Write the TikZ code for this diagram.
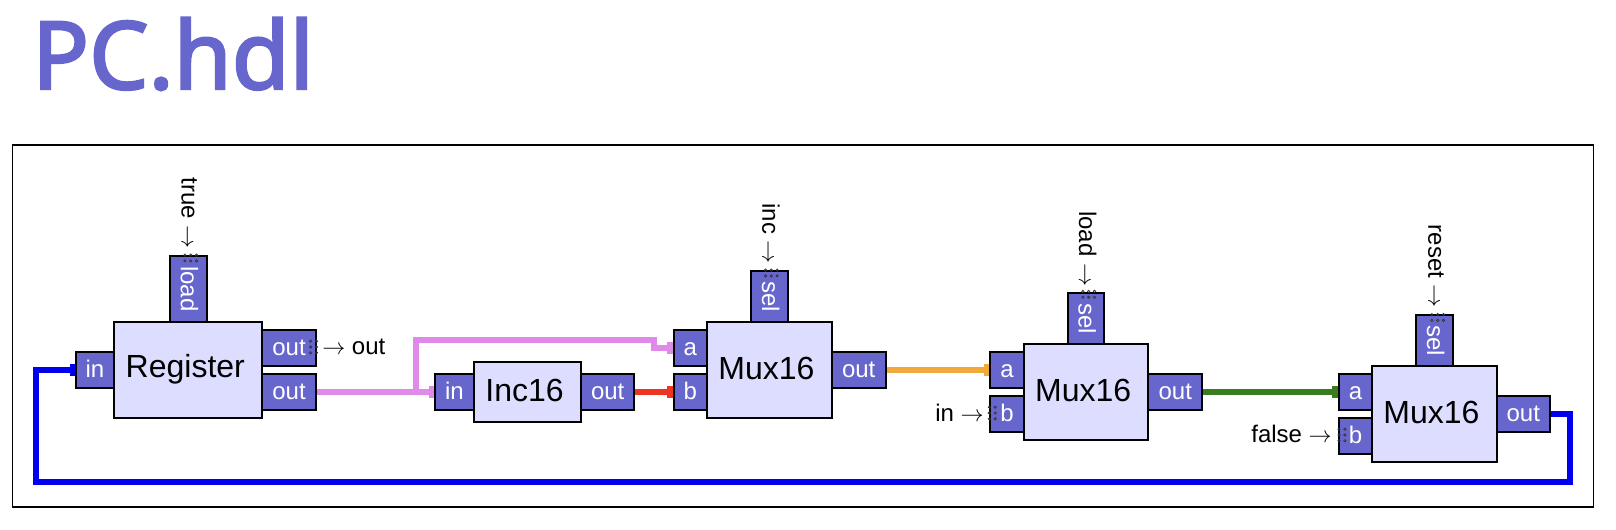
\documentclass[tikz,border=0pt]{standalone}
\usepackage{fontspec}
\setmainfont{Liberation Sans}
\newfontfamily\titlefont{Noto Sans}[FakeBold=2.6]
\usetikzlibrary{arrows.meta}
\definecolor{chipblue}{HTML}{6666CC}
\definecolor{chiplight}{HTML}{DDDDFF}
\definecolor{wirepink}{HTML}{DF8AE8}
\definecolor{wirered}{HTML}{EE3524}
\definecolor{wireorange}{HTML}{F2A93B}
\definecolor{wiregreen}{HTML}{3A7D1E}
\definecolor{wireblue}{HTML}{0000EE}
\tikzset{
	boxsize/.style 2 args={minimum width=#1*0.75pt, minimum height=#2*0.75pt},
	chipbox/.style={draw=black, line width=1.5pt, fill=chiplight, inner sep=0pt, text height=17.25pt, text depth=2.25pt, font=\fontsize{24pt}{24pt}\selectfont, execute at end node={\kern4.5pt}},
	portbox/.style={draw=black, line width=1.5pt, fill=chipblue, text=white, inner sep=0pt, text height=12.75pt, text depth=1.5pt, font=\fontsize{18pt}{18pt}\selectfont},
	wirelabel/.style={black, inner sep=0pt, font=\fontsize{18pt}{18pt}\selectfont},
	wire/.style={line width=4.5pt, -{Rectangle[length=4pt, width=9.5pt]}},
	pinmark/.style={draw=black!80, line width=0.5pt},
}
\begin{document}
\begin{tikzpicture}[x=0.75pt, y=-0.75pt]
	\useasboundingbox (0,0) rectangle (1616,530);
	\node[chipblue, inner sep=0pt, anchor=base west, font=\titlefont\fontsize{70.5pt}{70.5pt}\selectfont] (title) at (32,89) {PC.hdl};
	\node[draw=black, line width=0.8pt, boxsize={1581}{362}, inner sep=0pt] (frame) at (802.8,326) {};

	% register
	\node[portbox, boxsize={38.3}{36}] (regIn) at (95,370) {in};
	\node[portbox, boxsize={66}{36.7}, rotate=-90] (regLoad) at (188.4,289) {load};
	\node[portbox, boxsize={54}{36}] (regOutA) at (289,348) {out};
	\node[portbox, boxsize={54}{36}] (regOutB) at (289,392) {out};
	\node[chipbox, boxsize={148}{96}, text depth=5.25pt] (reg) at (188.3,370) {Register};

	% incrementer
	\node[portbox, boxsize={39}{36}] (incIn) at (454.5,392) {in};
	\node[portbox, boxsize={53.3}{36}] (incOut) at (607.7,392) {out};
	\node[chipbox, boxsize={107}{60}] (inc) at (527.5,392) {Inc16};

	% first mux
	\node[portbox, boxsize={33.3}{36}] (muxIncA) at (690.3,348) {a};
	\node[portbox, boxsize={33.3}{36}] (muxIncB) at (690.3,392) {b};
	\node[portbox, boxsize={51}{36.4}, rotate=-90] (muxIncSel) at (769.5,296.5) {sel};
	\node[portbox, boxsize={54}{36}] (muxIncOut) at (858.7,370) {out};
	\node[chipbox, boxsize={124.7}{96}] (muxInc) at (769.4,370) {Mux16};

	% second mux
	\node[portbox, boxsize={34}{36}] (muxLoadA) at (1007,370) {a};
	\node[portbox, boxsize={34}{36}] (muxLoadB) at (1007,414) {b};
	\node[portbox, boxsize={51}{36.4}, rotate=-90] (muxLoadSel) at (1086.2,318.5) {sel};
	\node[portbox, boxsize={54}{36}] (muxLoadOut) at (1175.3,392) {out};
	\node[chipbox, boxsize={124.3}{96}] (muxLoad) at (1086.2,392) {Mux16};

	% third mux
	\node[portbox, boxsize={33.7}{36}] (muxResetA) at (1355.5,392) {a};
	\node[portbox, boxsize={33.7}{36}] (muxResetB) at (1355.5,436) {b};
	\node[portbox, boxsize={51}{36.4}, rotate=-90] (muxResetSel) at (1434.5,340.5) {sel};
	\node[portbox, boxsize={53.3}{36}] (muxResetOut) at (1523.3,414) {out};
	\node[chipbox, boxsize={124.4}{96}] (muxReset) at (1434.5,414) {Mux16};

	% wires
	\coordinate (incBranch) at (416,392);
	\coordinate (incJog) at (654,340);
	\coordinate (loopRight) at (1570,481.5);
	\coordinate (loopLeft) at (36,481.5);
	\draw[wire, draw=wirepink] (regOutB.east) -- (incIn.west);
	\draw[wire, draw=wirepink] (incBranch) |- (incJog) |- (muxIncA.west);
	\draw[wire, draw=wirered] (incOut.east) -- (muxIncB.west);
	\draw[wire, draw=wireorange] (muxIncOut.east) -- (muxLoadA.west);
	\draw[wire, draw=wiregreen] (muxLoadOut.east) -- (muxResetA.west);
	\draw[wire, draw=wireblue] (muxResetOut.east) -| (loopRight) -- (loopLeft) |- (regIn.west);

	% labels
	\node[wirelabel, rotate=-90, anchor=base east] (lblTrue) at (181.7,249) {true $\rightarrow$};
	\node[wirelabel, rotate=-90, anchor=base east] (lblInc) at (762.3,264) {inc $\rightarrow$};
	\node[wirelabel, rotate=-90, anchor=base east] (lblLoad) at (1079,286.5) {load $\rightarrow$};
	\node[wirelabel, rotate=-90, anchor=base east] (lblReset) at (1428.3,308) {reset $\rightarrow$};
	\node[wirelabel, anchor=base west] (lblOut) at (322,355) {$\rightarrow$ out};
	\node[wirelabel, anchor=base east] (lblIn) at (984,421.7) {in $\rightarrow$};
	\node[wirelabel, anchor=base east] (lblFalse) at (1332,443) {false $\rightarrow$};

	% pin marks
	\foreach \cx/\cy in {190.7/258, 771.3/273, 1088.7/294.3, 1437.7/317.5}
		\foreach \i in {-1,0,1}
			\foreach \j in {-1,1}
				\draw[pinmark] (\cx+\i*5.8,\cy+\j*2.9) circle (1.2);
	\foreach \cx/\cy in {313.5/347, 992.3/413, 1342/435}
		\foreach \i in {-1,1}
			\foreach \j in {-1,0,1}
				\draw[pinmark] (\cx+\i*2.9,\cy+\j*5.8) circle (1.2);
\end{tikzpicture}
\end{document}
